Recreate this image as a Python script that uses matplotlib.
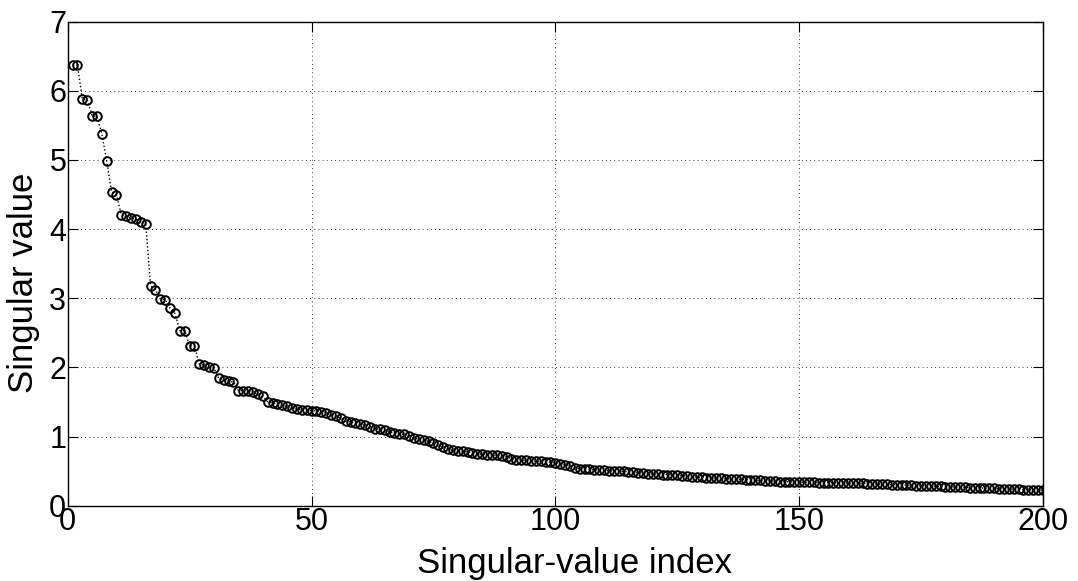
import numpy as np
import matplotlib
matplotlib.use('Agg')
import matplotlib.pyplot as plt

plt.rcParams['font.family'] = ['Liberation Sans', 'DejaVu Sans']

# singular values, index 1..200
sv_1_40 = [6.37, 6.37, 5.88, 5.87, 5.64, 5.63, 5.38, 4.985, 4.54, 4.49,
           4.21, 4.19, 4.16, 4.14, 4.11, 4.08, 3.18, 3.12, 2.99, 2.98,
           2.855, 2.78, 2.53, 2.53, 2.31, 2.31, 2.045, 2.035, 2.0, 1.99,
           1.84, 1.82, 1.80, 1.79, 1.665, 1.665, 1.66, 1.65, 1.61, 1.58]
sv_41_80 = [1.505, 1.49, 1.47, 1.45, 1.435, 1.415, 1.40, 1.39, 1.385, 1.375,
            1.37, 1.36, 1.34, 1.31, 1.30, 1.265, 1.23, 1.21, 1.19, 1.18,
            1.165, 1.145, 1.115, 1.105, 1.095, 1.07, 1.05, 1.04, 1.03, 1.015,
            0.975, 0.965, 0.95, 0.93, 0.905, 0.875, 0.845, 0.825, 0.80, 0.79]
sv_81_120 = [0.785, 0.78, 0.765, 0.75, 0.745, 0.74, 0.735, 0.73, 0.72, 0.71,
             0.68, 0.665, 0.66, 0.655, 0.65, 0.645, 0.64, 0.635, 0.63, 0.62,
             0.605, 0.595, 0.58, 0.55, 0.535, 0.53, 0.525, 0.52, 0.515, 0.51,
             0.505, 0.50, 0.50, 0.495, 0.49, 0.485, 0.48, 0.47, 0.465, 0.46]
sv_121_160 = [0.455, 0.45, 0.45, 0.445, 0.44, 0.435, 0.43, 0.42, 0.415, 0.41,
              0.405, 0.40, 0.40, 0.395, 0.39, 0.385, 0.38, 0.38, 0.375, 0.37,
              0.37, 0.365, 0.36, 0.36, 0.355, 0.35, 0.35, 0.345, 0.345, 0.34,
              0.34, 0.338, 0.336, 0.335, 0.333, 0.332, 0.33, 0.329, 0.328, 0.327]
sv_161_200 = [0.326, 0.325, 0.323, 0.32, 0.317, 0.315, 0.312, 0.309, 0.306, 0.303,
              0.30, 0.298, 0.295, 0.292, 0.29, 0.287, 0.284, 0.281, 0.279, 0.276,
              0.273, 0.27, 0.268, 0.265, 0.262, 0.259, 0.257, 0.254, 0.251, 0.249,
              0.246, 0.243, 0.241, 0.238, 0.235, 0.233, 0.231, 0.229, 0.227, 0.225]

sv = np.array(sv_1_40 + sv_41_80 + sv_81_120 + sv_121_160 + sv_161_200)
idx = np.arange(1, len(sv) + 1)

x_ticks = [0, 50, 100, 150, 200]
y_ticks = [0, 1, 2, 3, 4, 5, 6, 7]

fig = plt.figure(figsize=(10.78, 5.81), dpi=100)
ax = fig.add_axes([0.0628, 0.1296, 0.9047, 0.8331])

ax.plot(idx, sv, color='black', linestyle=':', linewidth=1.0,
        marker='o', markersize=6.2, markerfacecolor='none',
        markeredgecolor='black', markeredgewidth=1.4)

ax.set_xlim(0, 200)
ax.set_ylim(0, 7)
ax.set_xticks(x_ticks)
ax.set_yticks(y_ticks)
ax.tick_params(direction='in', top=True, right=True, length=7,
               labelsize=22, pad=1)
ax.grid(True, color='black', linestyle=(0, (1, 4)), linewidth=0.6)
for s in ax.spines.values():
    s.set_linewidth(1.0)

ax.set_xlabel('Singular-value index', fontsize=25, labelpad=1)
ax.xaxis.set_label_coords(0.52, -0.085)
ax.set_ylabel('Singular value', fontsize=25)
ax.yaxis.set_label_coords(-0.028, 0.46)

fig.savefig('out.png', dpi=100)
